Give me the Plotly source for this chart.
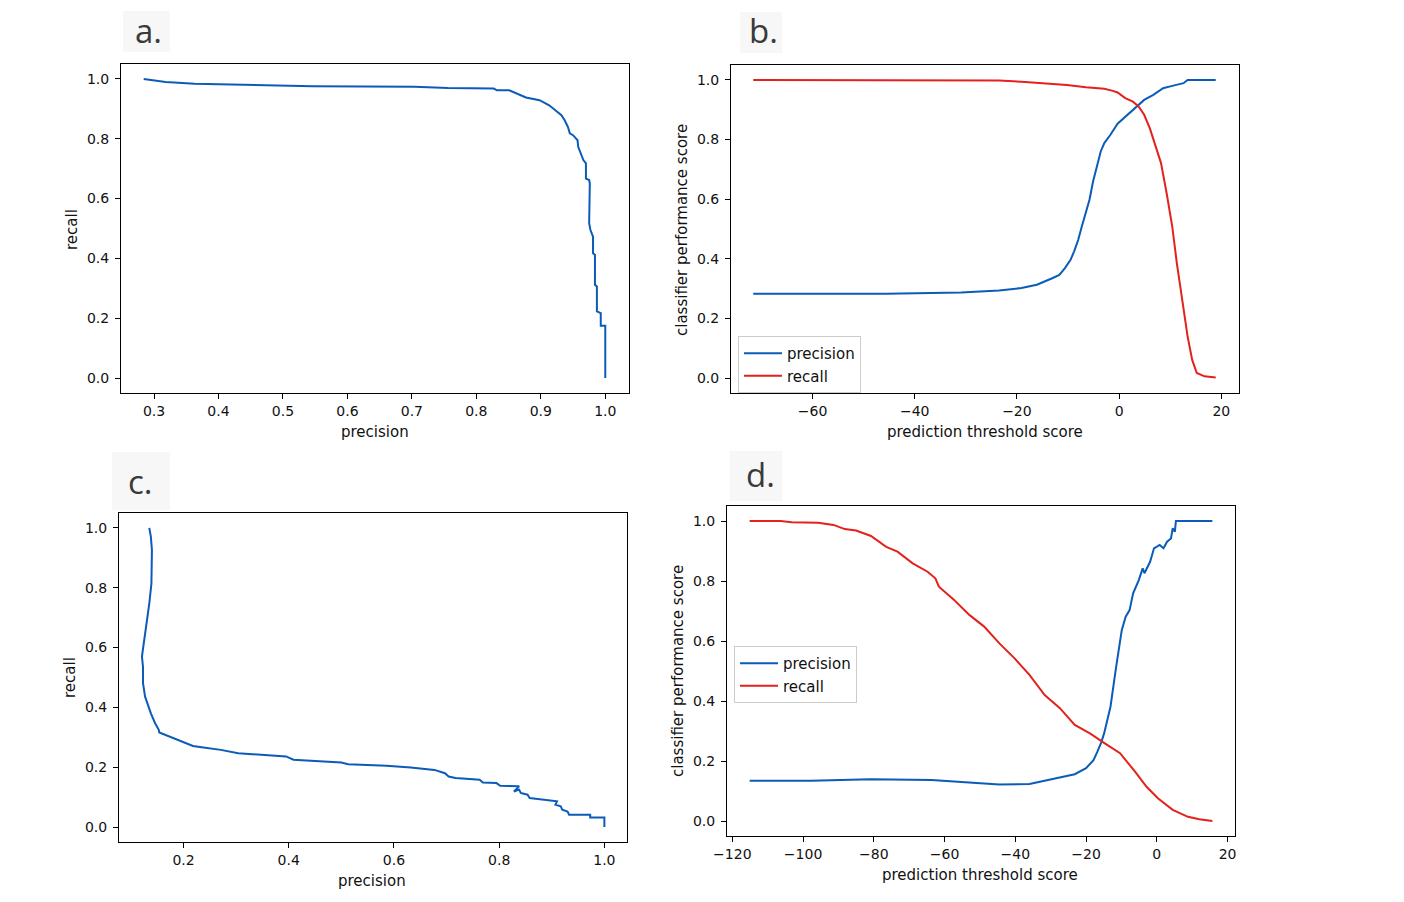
import plotly.graph_objects as go

# ---------------- data ----------------
# panel a: precision-recall curve (model 1)
a_precision = [0.284, 0.300, 0.318, 0.363, 0.436, 0.546, 0.704, 0.756, 0.827, 0.832, 0.851, 0.861,
               0.877, 0.898, 0.913, 0.932, 0.937, 0.942, 0.945, 0.950, 0.957, 0.958, 0.962, 0.966,
               0.970, 0.970, 0.975, 0.976, 0.975, 0.977, 0.981, 0.981, 0.984, 0.984, 0.987, 0.987,
               0.993, 0.993, 1.000, 1.000]
a_recall = [1.000, 0.996, 0.990, 0.984, 0.980, 0.976, 0.974, 0.970, 0.968, 0.962, 0.962, 0.953,
            0.938, 0.929, 0.912, 0.879, 0.862, 0.840, 0.818, 0.812, 0.795, 0.773, 0.751, 0.729,
            0.718, 0.667, 0.662, 0.651, 0.517, 0.495, 0.473, 0.417, 0.412, 0.312, 0.306, 0.223,
            0.217, 0.175, 0.175, 0.000]

# panel b: precision / recall vs threshold (model 1)
b_prec_threshold = [-71.6, -45.6, -30.9, -23.5, -19.1, -16.1, -13.2, -11.7, -10.6, -9.5, -8.8, -8.0,
                    -7.3, -6.5, -5.8, -5.1, -4.3, -3.6, -2.9, -1.7, -0.3, 1.6, 3.4, 4.9, 6.7, 8.6,
                    10.4, 12.6, 13.4, 18.9]
b_precision = [0.283, 0.283, 0.287, 0.294, 0.302, 0.313, 0.334, 0.346, 0.369, 0.397, 0.425, 0.464,
               0.508, 0.553, 0.598, 0.659, 0.709, 0.760, 0.788, 0.816, 0.853, 0.882, 0.912, 0.933,
               0.950, 0.972, 0.980, 0.989, 1.000, 1.000]
b_rec_threshold = [-71.6, -34.6, -23.5, -19.1, -14.6, -10.2, -6.5, -2.9, -1.4, -0.3, 1.2, 2.7, 3.8,
                   4.9, 6.0, 7.1, 8.2, 9.3, 10.4, 11.3, 12.3, 13.4, 14.3, 15.2, 16.7, 18.9]
b_recall = [1.000, 1.000, 0.998, 0.994, 0.989, 0.983, 0.975, 0.970, 0.964, 0.958, 0.939, 0.927, 0.911,
            0.883, 0.838, 0.777, 0.721, 0.620, 0.508, 0.385, 0.263, 0.140, 0.061, 0.017, 0.006, 0.002]

# panel c: precision-recall curve (model 2)
c_precision = [0.135, 0.138, 0.140, 0.139, 0.135, 0.130, 0.125, 0.121, 0.123, 0.123, 0.127, 0.132,
               0.138, 0.146, 0.153, 0.154, 0.173, 0.192, 0.218, 0.238, 0.271, 0.304, 0.395, 0.409,
               0.500, 0.513, 0.586, 0.632, 0.677, 0.697, 0.704, 0.717, 0.763, 0.769, 0.795, 0.802,
               0.838, 0.828, 0.838, 0.841, 0.854, 0.858, 0.894, 0.910, 0.907, 0.917, 0.920, 0.930,
               0.933, 0.973, 0.973, 1.000, 1.000]
c_recall = [1.000, 0.970, 0.926, 0.814, 0.748, 0.681, 0.625, 0.570, 0.536, 0.481, 0.436, 0.408,
            0.380, 0.347, 0.325, 0.316, 0.303, 0.291, 0.271, 0.266, 0.258, 0.247, 0.236, 0.225,
            0.216, 0.210, 0.205, 0.199, 0.191, 0.180, 0.169, 0.164, 0.158, 0.149, 0.147, 0.138,
            0.136, 0.119, 0.125, 0.114, 0.108, 0.097, 0.091, 0.086, 0.075, 0.069, 0.058, 0.052,
            0.041, 0.041, 0.032, 0.032, 0.000]

# panel d: precision / recall vs threshold (model 2)
d_prec_threshold = [-115.1, -97.8, -80.8, -63.7, -55.2, -44.5, -36.0, -29.6, -23.2, -20.0, -17.9,
                    -16.8, -15.7, -14.9, -13.1, -11.5, -9.9, -8.8, -7.7, -6.7, -5.1, -4.0, -3.5,
                    -1.9, -0.8, 0.8, 1.9, 2.9, 4.0, 4.5, 5.1, 5.4, 15.7]
d_precision = [0.134, 0.134, 0.139, 0.137, 0.130, 0.122, 0.123, 0.139, 0.156, 0.176, 0.203,
               0.231, 0.262, 0.292, 0.381, 0.514, 0.637, 0.681, 0.703, 0.759, 0.803, 0.842, 0.826,
               0.864, 0.909, 0.920, 0.909, 0.931, 0.942, 0.976, 0.964, 1.000, 1.000]
d_rec_threshold = [-115.1, -106.4, -103.2, -95.7, -91.4, -88.2, -85.0, -80.8, -76.5, -73.3, -69.0,
                   -64.8, -62.6, -61.6, -57.3, -53.0, -48.8, -44.5, -40.2, -36.0, -31.7, -27.4,
                   -23.2, -18.9, -14.7, -10.4, -6.1, -2.9, 0.3, 4.5, 8.8, 12.0, 15.7]
d_recall = [1.000, 1.000, 0.996, 0.994, 0.987, 0.973, 0.968, 0.950, 0.914, 0.898, 0.859,
            0.831, 0.809, 0.781, 0.737, 0.687, 0.648, 0.592, 0.542, 0.487, 0.420, 0.376,
            0.320, 0.292, 0.259, 0.226, 0.164, 0.114, 0.076, 0.037, 0.014, 0.006, 0.000]

# tick labels
score_ticks = [0.0, 0.2, 0.4, 0.6, 0.8, 1.0]
score_ticktext = ["0.0", "0.2", "0.4", "0.6", "0.8", "1.0"]
a_xticks = [0.3, 0.4, 0.5, 0.6, 0.7, 0.8, 0.9, 1.0]
a_xticktext = ["0.3", "0.4", "0.5", "0.6", "0.7", "0.8", "0.9", "1.0"]
b_xticks = [-60, -40, -20, 0, 20]
b_xticktext = ["\u221260", "\u221240", "\u221220", "0", "20"]
c_xticks = [0.2, 0.4, 0.6, 0.8, 1.0]
c_xticktext = ["0.2", "0.4", "0.6", "0.8", "1.0"]
d_xticks = [-120, -100, -80, -60, -40, -20, 0, 20]
d_xticktext = ["\u2212120", "\u2212100", "\u221280", "\u221260", "\u221240", "\u221220", "0", "20"]

panel_labels = ["a.", "b.", "c.", "d."]

# ---------------- style ----------------
OFF = 8                 # page body margin of the html page
W, H = 1404 - OFF, 902 - OFF
BLUE = "#0a5cb8"
RED = "#e3211d"
FONT = "DejaVu Sans"


def fx(px):
    return (px - OFF) / W


def fy(py):
    return 1 - (py - OFF) / H


fig = go.Figure()

fig.add_trace(go.Scatter(x=a_precision, y=a_recall, mode="lines", line=dict(color=BLUE, width=2),
                         xaxis="x", yaxis="y", showlegend=False))
fig.add_trace(go.Scatter(x=b_prec_threshold, y=b_precision, mode="lines", name="precision",
                         line=dict(color=BLUE, width=2), xaxis="x2", yaxis="y2", legend="legend"))
fig.add_trace(go.Scatter(x=b_rec_threshold, y=b_recall, mode="lines", name="recall",
                         line=dict(color=RED, width=2), xaxis="x2", yaxis="y2", legend="legend"))
fig.add_trace(go.Scatter(x=c_precision, y=c_recall, mode="lines", line=dict(color=BLUE, width=2),
                         xaxis="x3", yaxis="y3", showlegend=False))
fig.add_trace(go.Scatter(x=d_prec_threshold, y=d_precision, mode="lines", name="precision",
                         line=dict(color=BLUE, width=2), xaxis="x4", yaxis="y4", legend="legend2"))
fig.add_trace(go.Scatter(x=d_rec_threshold, y=d_recall, mode="lines", name="recall",
                         line=dict(color=RED, width=2), xaxis="x4", yaxis="y4", legend="legend2"))


def axis(domain, rng, tickvals, ticktext, anchor, standoff):
    return dict(domain=domain, range=rng, tickvals=tickvals, ticktext=ticktext, anchor=anchor,
                showline=True, mirror=True, linecolor="#000000", linewidth=1,
                ticks="outside", ticklen=5, tickwidth=1, tickcolor="#000000",
                showgrid=False, zeroline=False, ticklabelstandoff=standoff, automargin=False,
                tickfont=dict(family=FONT, size=14, color="#111111"), fixedrange=True)


panels = {
    "a": dict(x=(121, 629), y=(64, 393), xr=[0.2488, 1.0368]),
    "b": dict(x=(731, 1239), y=(65, 393), xr=[-75.95, 23.46]),
    "c": dict(x=(119, 627), y=(513, 842), xr=[0.0774, 1.043]),
    "d": dict(x=(727, 1235), y=(506, 836), xr=[-121.5, 22.1]),
}

lay = {}
xt = [(a_xticks, a_xticktext), (b_xticks, b_xticktext), (c_xticks, c_xticktext), (d_xticks, d_xticktext)]
for i, key in enumerate(["a", "b", "c", "d"]):
    p = panels[key]
    sx = "" if i == 0 else str(i + 1)
    xdom = [fx(p["x"][0]), fx(p["x"][1])]
    ydom = [fy(p["y"][1]), fy(p["y"][0])]
    lay["xaxis" + sx] = axis(xdom, p["xr"], xt[i][0], xt[i][1], "y" + sx, 0)
    lay["yaxis" + sx] = axis(ydom, [-0.05, 1.05], score_ticks, score_ticktext, "x" + sx, 3)

fig.update_layout(**lay)

ann = []
# axis titles
titles = [
    ("precision", 375, 432, 0), ("recall", 72, 230, -90),
    ("prediction threshold score", 985, 432, 0), ("classifier performance score", 682, 230, -90),
    ("precision", 372, 881, 0), ("recall", 70, 678, -90),
    ("prediction threshold score", 980, 875, 0), ("classifier performance score", 678, 671, -90),
]
for text, x, y, ang in titles:
    ann.append(dict(text=text, x=fx(x), y=fy(y), xref="paper", yref="paper", showarrow=False,
                    xanchor="center", yanchor="middle", textangle=ang,
                    font=dict(family=FONT, size=15, color="#111111")))

# panel letters with faint boxes
boxes = [(123, 170, 11, 52), (740, 782, 12, 53), (112, 170, 452, 510), (730, 782, 451, 501)]
letter_pos = [(148.5, 30.5), (763, 31), (140, 481), (760, 474)]
shapes = []
for (x0, x1, y0, y1), (lx, ly), lab in zip(boxes, letter_pos, panel_labels):
    shapes.append(dict(type="rect", xref="paper", yref="paper", x0=fx(x0), x1=fx(x1), y0=fy(y1), y1=fy(y0),
                       fillcolor="#f7f7f7", line=dict(width=0), layer="below"))
    ann.append(dict(text=lab, x=fx(lx), y=fy(ly), xref="paper", yref="paper", showarrow=False,
                    xanchor="center", yanchor="middle", borderpad=0,
                    font=dict(family="Open Sans", size=33, color="#3a3a3a")))

legend_style = dict(bgcolor="rgba(255,255,255,0.85)", bordercolor="#cccccc", borderwidth=1,
                    font=dict(family=FONT, size=15, color="#111111"), xanchor="left", yanchor="top",
                    itemwidth=38, tracegroupgap=0)

fig.update_layout(
    width=W, height=H, margin=dict(l=0, r=0, t=0, b=0, autoexpand=False),
    paper_bgcolor="white", plot_bgcolor="white",
    annotations=ann, shapes=shapes,
    legend=dict(x=fx(738), y=fy(336), **legend_style),
    legend2=dict(x=fx(734), y=fy(646), **legend_style),
    font=dict(family=FONT, size=14),
)

fig.write_html("out.html")
